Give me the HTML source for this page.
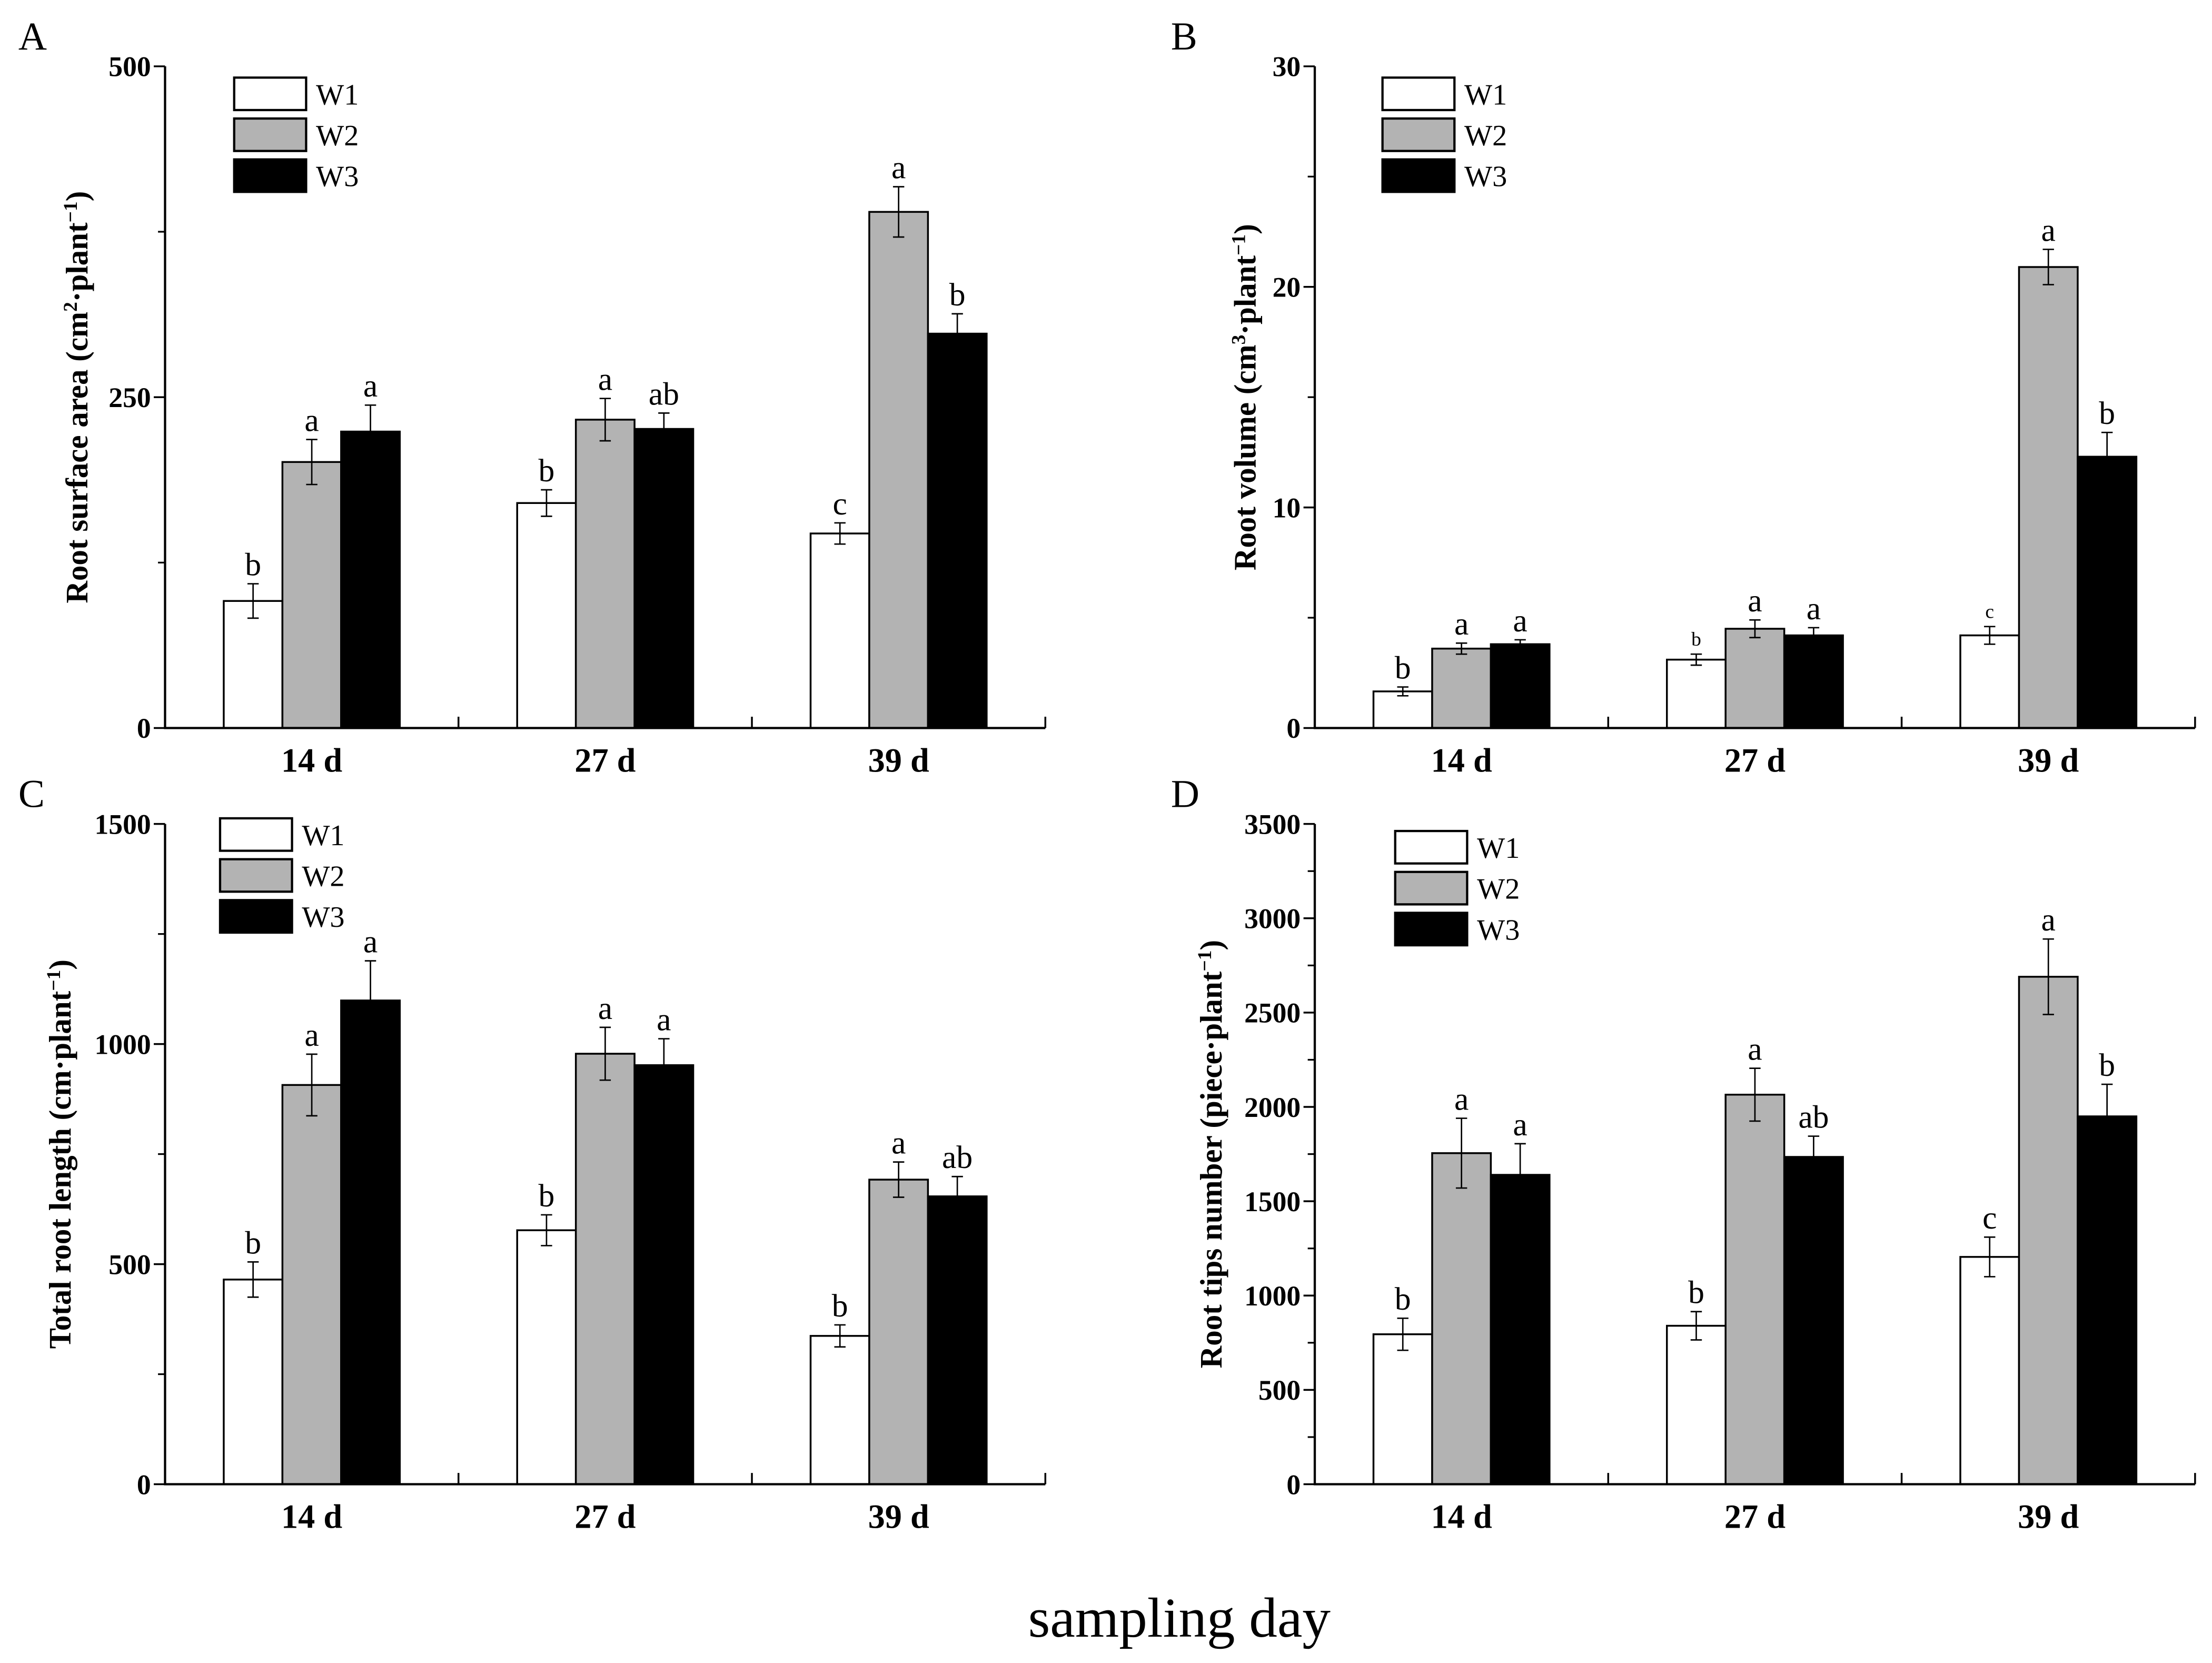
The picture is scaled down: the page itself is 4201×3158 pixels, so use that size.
<!DOCTYPE html>
<html><head><meta charset="utf-8"><style>
html,body{margin:0;padding:0;background:#fff}
svg{display:block}
text{font-family:"Liberation Serif",serif}
</style></head><body>
<svg id="fig" xmlns="http://www.w3.org/2000/svg" width="4201" height="3158" viewBox="0 0 1568 1178.7">
<rect width="1568" height="1178.7" fill="#fff"/>
<text x="836" y="1160" font-size="40" text-anchor="middle">sampling day</text>
</svg>
<script>
const categories = ["14 d","27 d","39 d"];
const seriesNames = ["W1","W2","W3"];
const aVals = [[96,170,147],[201,233,390],[224,226,298]];
const aErr = [[13,10,8],[17,16,19],[20,12,15]];
const aLet = [["b","b","c"],["a","a","a"],["a","ab","b"]];
const bVals = [[1.66,3.1,4.2],[3.6,4.5,20.9],[3.8,4.2,12.3]];
const bErr = [[0.2,0.25,0.4],[0.25,0.4,0.8],[0.2,0.35,1.1]];
const bLet = [["b","b","c"],["a","a","a"],["a","a","b"]];
const cVals = [[465,577,337],[907,978,692],[1099,952,654]];
const cErr = [[40,35,25],[70,60,40],[90,60,45]];
const cLet = [["b","b","b"],["a","a","a"],["a","a","ab"]];
const dVals = [[795,840,1205],[1755,2065,2690],[1640,1735,1950]];
const dErr = [[85,75,105],[185,140,200],[165,110,170]];
const dLet = [["b","b","c"],["a","a","a"],["a","ab","b"]];
const aTicks = [0,250,500];
const bTicks = [0,10,20,30];
const cTicks = [0,500,1000,1500];
const dTicks = [0,500,1000,1500,2000,2500,3000,3500];

const NS="http://www.w3.org/2000/svg";
const svg=document.getElementById('fig');
function el(tag,attrs,parent){const e=document.createElementNS(NS,tag);for(const k in attrs)e.setAttribute(k,attrs[k]);(parent||svg).appendChild(e);return e;}
const fills=["#fff","#b3b3b3","#000"];

function panel(cfg){
  const g=el('g',{});
  
  
  const x0=cfg.x0, top=cfg.top, bot=cfg.bot, W=624, gw=W/3;
  const max=cfg.ticks[cfg.ticks.length-1];
  const y=v=>bot-(v/max)*(bot-top);
  const xg=i=>x0+i*gw;
  const pl=el('text',{x:cfg.x0-cfg.lx,y:top-12,'font-size':28},g);pl.textContent=cfg.id;
  
  
  for(let s=0;s<3;s++){for(let i=0;i<3;i++){
    const v=cfg.vals[s][i],e=cfg.err[s][i];
    const bx=xg(i)+gw*0.2+s*gw*0.2,bw=gw*0.2;
    const r=el('rect',{x:bx,y:y(v),width:bw,height:bot-y(v),fill:fills[s],stroke:'#000','stroke-width':1.3},g);
    
    
    const cx=bx+bw/2;
    const eb=el('path',{d:`M${cx-4},${y(v+e)}H${cx+4}M${cx},${y(v+e)}V${y(v-e)}M${cx-4},${y(v-e)}H${cx+4}`,stroke:'#000','stroke-width':1,fill:'none'},g);
    
    
    const small=cfg.small&&cfg.small[s]&&cfg.small[s][i];
    const t=el('text',{x:cx,y:y(v+e)-6,'font-size':small?14:23,'text-anchor':'middle'},g);
    t.textContent=cfg.lets[s][i];
    
    
  }}
  const ax=el('path',{d:`M${x0},${top}V${bot}H${x0+W}`,stroke:'#000','stroke-width':1.6,fill:'none'},g);
  
  
  for(let i=1;i<=3;i++){const tk=el('line',{x1:xg(i),x2:xg(i),y1:bot,y2:bot-8,stroke:'#000','stroke-width':1.3},g);
    }
  for(let i=0;i<3;i++){const t=el('text',{x:xg(i)+gw/2,y:bot+31,'font-size':24,'font-weight':'bold','text-anchor':'middle'},g);
    t.textContent=categories[i];}
  const tk=cfg.ticks;
  for(let i=0;i<tk.length;i++){
    const l=el('line',{x1:x0-8,x2:x0,y1:y(tk[i]),y2:y(tk[i]),stroke:'#000','stroke-width':1.3},g);
    
    const t=el('text',{x:x0-10,y:y(tk[i])+7,'font-size':20,'font-weight':'bold','text-anchor':'end'},g);
    t.textContent=tk[i];
    if(i<tk.length-1){const mv=(tk[i]+tk[i+1])/2;
      const m=el('line',{x1:x0-5,x2:x0,y1:y(mv),y2:y(mv),stroke:'#000','stroke-width':1.2},g);
      }
  }
  const yt=el('text',{transform:`translate(${cfg.tx},${(top+bot)/2}) rotate(-90)`,'font-size':22,'font-weight':'bold','text-anchor':'middle'},g);
  yt.innerHTML=cfg.title;
  
  for(let s=0;s<3;s++){
    const ly=cfg.ly+s*29;
    const r=el('rect',{x:cfg.lgx,y:ly,width:51,height:23,fill:fills[s],stroke:'#000','stroke-width':1.6},g);
    
    const t=el('text',{x:cfg.lgx+58,y:ly+19,'font-size':21},g);t.textContent=seriesNames[s];
    
  }
}
const sup=(a)=>`<tspan baseline-shift="super" font-size="14">${a}</tspan>`;
panel({id:'A',x0:117,top:47,bot:516,ticks:aTicks,vals:aVals,err:aErr,lets:aLet,lx:104,tx:62,lgx:166,ly:55,
  title:`Root surface area (cm${sup('2')}·plant${sup('−1')})`});
panel({id:'B',x0:932,top:47,bot:516,ticks:bTicks,vals:bVals,err:bErr,lets:bLet,lx:102,tx:890,lgx:980,ly:55,
  small:[[false,true,true],[false,false,false],[false,false,false]],
  title:`Root volume (cm${sup('3')}·plant${sup('−1')})`});
panel({id:'C',x0:117,top:584,bot:1052,ticks:cTicks,vals:cVals,err:cErr,lets:cLet,lx:104,tx:50,lgx:156,ly:580,
  title:`Total root length (cm·plant${sup('−1')})`});
panel({id:'D',x0:932,top:584,bot:1052,ticks:dTicks,vals:dVals,err:dErr,lets:dLet,lx:102,tx:866,lgx:989,ly:589,
  title:`Root tips number (piece·plant${sup('−1')})`});
</script>
</body></html>
